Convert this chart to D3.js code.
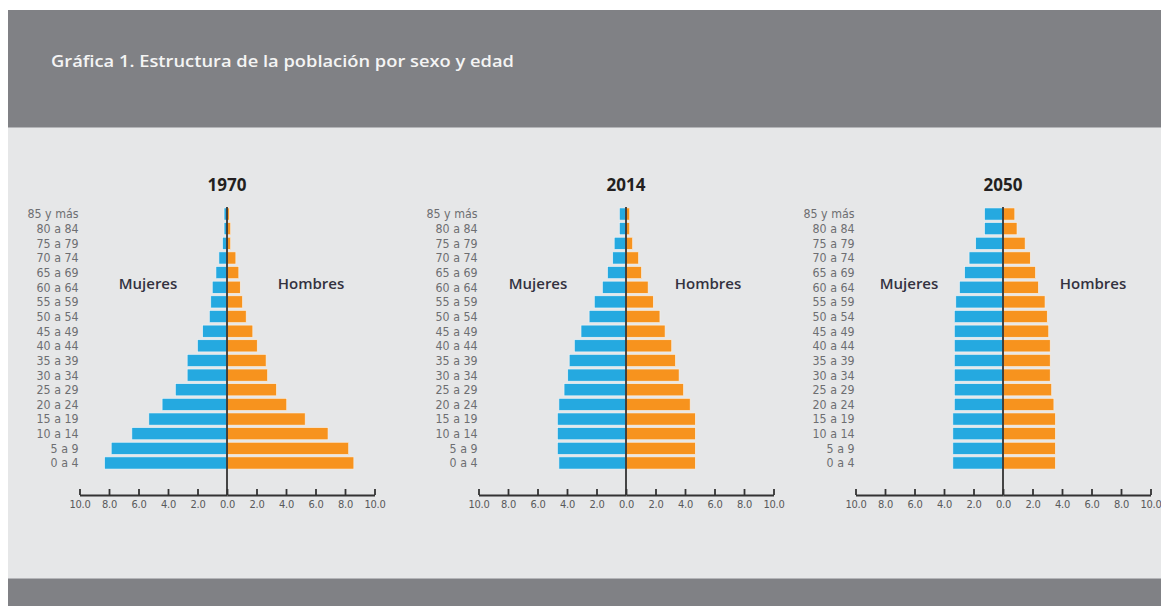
<!DOCTYPE html>
<html>
<head>
<meta charset="utf-8">
<script src="https://cdn.jsdelivr.net/npm/d3@7"></script>
<style>
  body { margin: 0; background: #fff; }
  svg { display: block; }
</style>
</head>
<body>
<div id="chart"></div>
<script>
// age groups, bottom to top
var ageGroups = ["0 a 4", "5 a 9", "10 a 14", "15 a 19", "20 a 24", "25 a 29", "30 a 34", "35 a 39",
    "40 a 44", "45 a 49", "50 a 54", "55 a 59", "60 a 64", "65 a 69", "70 a 74", "75 a 79", "80 a 84", "85 y más"];

var years = ["1970", "2014", "2050"];

// percent of population
var women1970 = [8.3, 7.85, 6.45, 5.3, 4.4, 3.5, 2.7, 2.7, 2.0, 1.65, 1.2, 1.1, 1.0, 0.75, 0.55, 0.3, 0.2, 0.2];
var men1970 = [8.6, 8.25, 6.85, 5.3, 4.05, 3.35, 2.75, 2.65, 2.05, 1.75, 1.3, 1.05, 0.9, 0.8, 0.6, 0.25, 0.25, 0.15];
var women2014 = [4.55, 4.65, 4.65, 4.65, 4.55, 4.2, 3.95, 3.85, 3.5, 3.05, 2.5, 2.15, 1.6, 1.25, 0.9, 0.8, 0.45, 0.45];
var men2014 = [4.7, 4.7, 4.7, 4.7, 4.35, 3.9, 3.6, 3.35, 3.1, 2.65, 2.3, 1.85, 1.5, 1.05, 0.85, 0.45, 0.25, 0.25];
var women2050 = [3.4, 3.4, 3.4, 3.4, 3.3, 3.3, 3.3, 3.3, 3.3, 3.3, 3.3, 3.2, 2.95, 2.6, 2.3, 1.85, 1.25, 1.25];
var men2050 = [3.55, 3.55, 3.55, 3.55, 3.45, 3.3, 3.2, 3.2, 3.2, 3.1, 3.0, 2.85, 2.4, 2.2, 1.85, 1.5, 0.95, 0.8];

var tickValues = [0, 2, 4, 6, 8, 10];
var title = "Gráfica 1. Estructura de la población por sexo y edad";

function init() {
    var w = 1161, h = 606;
    var svg = d3.select("#chart").append("svg").attr("width", w).attr("height", h);

    // frame: header, panel, footer
    svg.append("rect").attr("x", 8).attr("y", 10).attr("width", w - 8).attr("height", 118).attr("fill", "#808185");
    svg.append("rect").attr("x", 8).attr("y", 128).attr("width", w - 8).attr("height", 450).attr("fill", "#e6e7e8");
    svg.append("line").attr("x1", 8).attr("x2", w).attr("y1", 127.5).attr("y2", 127.5)
        .attr("stroke", "#b4b5b8").attr("stroke-width", 1);
    svg.append("rect").attr("x", 8).attr("y", 578).attr("width", w - 8).attr("height", 28).attr("fill", "#808185");
    svg.append("line").attr("x1", 8).attr("x2", w).attr("y1", 578.5).attr("y2", 578.5)
        .attr("stroke", "#b4b5b8").attr("stroke-width", 1);

    svg.append("text")
        .attr("x", 51).attr("y", 67)
        .attr("fill", "#f4f4f4")
        .style("font-family", "'Open Sans', sans-serif")
        .style("font-size", "17px")
        .style("font-weight", 600)
        .attr("textLength", 463)
        .attr("lengthAdjust", "spacingAndGlyphs")
        .text(title);

    var panels = [
        { year: years[0], women: women1970, men: men1970, cx: 227, mujDx: -79, homDx: 84 },
        { year: years[1], women: women2014, men: men2014, cx: 626, mujDx: -88, homDx: 82 },
        { year: years[2], women: women2050, men: men2050, cx: 1003, mujDx: -94, homDx: 90 }
    ];

    var half = 147.5;
    var axisY = 495;

    var y = d3.scaleBand()
        .domain(ageGroups.slice().reverse())
        .range([206.7, 470.3])
        .paddingInner(0.17)
        .paddingOuter(0.085);

    panels.forEach(function(p) {
        var g = svg.append("g");
        var xW = d3.scaleLinear().domain([0, 10]).range([p.cx, p.cx - half]);
        var xM = d3.scaleLinear().domain([0, 10]).range([p.cx, p.cx + half]);

        var rows = ageGroups.map(function(a, i) { return { age: a, women: p.women[i], men: p.men[i] }; });

        // women bars
        g.selectAll(".w").data(rows).enter().append("rect")
            .attr("x", d => xW(d.women))
            .attr("y", d => y(d.age))
            .attr("width", d => xW(0) - xW(d.women))
            .attr("height", y.bandwidth())
            .attr("fill", "#25a9e0")
            .attr("stroke", "#f2f6f8").attr("stroke-width", 0.6);

        // men bars
        g.selectAll(".m").data(rows).enter().append("rect")
            .attr("x", xM(0))
            .attr("y", d => y(d.age))
            .attr("width", d => xM(d.men) - xM(0))
            .attr("height", y.bandwidth())
            .attr("fill", "#f7931e")
            .attr("stroke", "#f8f3ec").attr("stroke-width", 0.6);

        // age labels
        g.selectAll(".age").data(rows).enter().append("text")
            .attr("x", p.cx - half - 1)
            .attr("y", d => y(d.age) + y.bandwidth() / 2)
            .attr("dy", "0.36em")
            .attr("text-anchor", "end")
            .attr("fill", "#6d6e71")
            .style("font-family", "'DejaVu Sans Condensed', 'DejaVu Sans', sans-serif")
            .style("font-stretch", "condensed")
            .style("font-size", "12.3px")
            .text(d => d.age);

        // center line
        g.append("line")
            .attr("x1", p.cx).attr("x2", p.cx)
            .attr("y1", y(ageGroups[ageGroups.length - 1]) - 1).attr("y2", axisY)
            .attr("stroke", "#333").attr("stroke-width", 1.8);

        // axes
        var fmt = d3.format(".1f");
        var axW = g.append("g").attr("transform", "translate(0," + axisY + ")")
            .call(d3.axisBottom(xW).tickValues(tickValues.slice(1)).tickFormat(fmt)
                .tickSizeInner(-6).tickSizeOuter(0).tickPadding(5));
        var axM = g.append("g").attr("transform", "translate(0," + axisY + ")")
            .call(d3.axisBottom(xM).tickValues(tickValues).tickFormat(fmt)
                .tickSizeInner(-6).tickSizeOuter(0).tickPadding(5));
        [axW, axM].forEach(function(ax) {
            ax.selectAll("path, line").attr("stroke", "#333").attr("stroke-width", 1.8);
            ax.selectAll("text")
                .attr("fill", "#58595b")
                .style("font-family", "'DejaVu Sans Condensed', 'DejaVu Sans', sans-serif")
                .style("font-stretch", "condensed")
                .style("font-size", "11px")
                .attr("letter-spacing", "-0.3");
        });

        // year title
        g.append("text")
            .attr("x", p.cx).attr("y", 191)
            .attr("text-anchor", "middle")
            .attr("fill", "#231f20")
            .style("font-family", "'Open Sans', sans-serif")
            .style("font-size", "17px")
            .style("font-weight", 700)
            .text(p.year);

        // sex labels
        g.append("text")
            .attr("x", p.cx + p.mujDx).attr("y", 289)
            .attr("text-anchor", "middle")
            .attr("fill", "#33323f")
            .style("font-family", "'Open Sans', sans-serif")
            .style("font-size", "15px")
            .style("font-weight", 600)
            .text("Mujeres");
        g.append("text")
            .attr("x", p.cx + p.homDx).attr("y", 289)
            .attr("text-anchor", "middle")
            .attr("fill", "#33323f")
            .style("font-family", "'Open Sans', sans-serif")
            .style("font-size", "15px")
            .style("font-weight", 600)
            .text("Hombres");
    });
}

window.onload = init;
</script>
</body>
</html>
